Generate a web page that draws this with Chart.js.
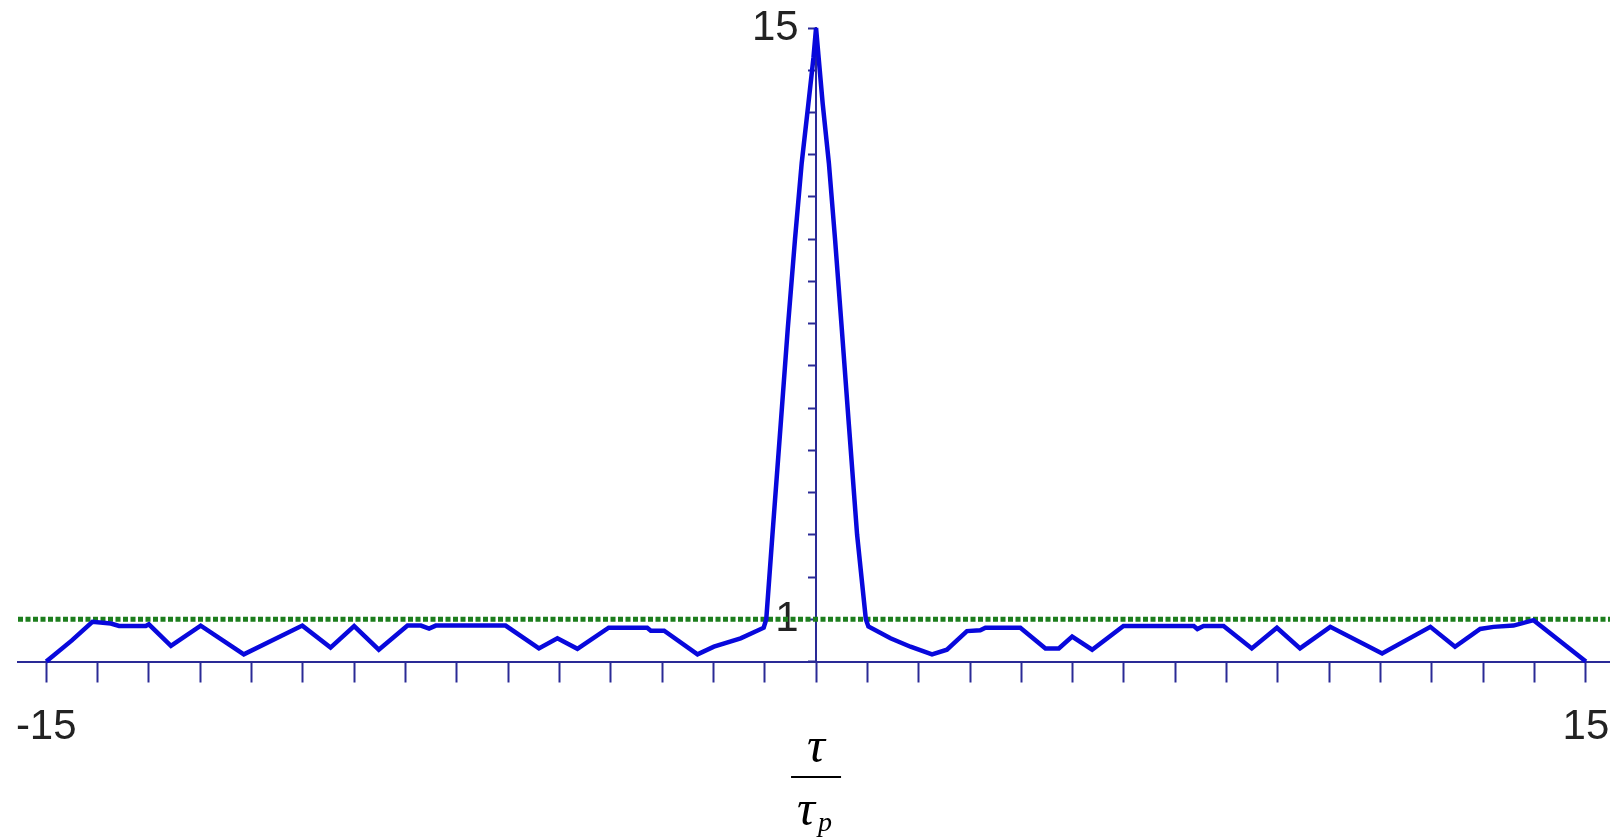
<!DOCTYPE html>
<html>
<head>
<meta charset="utf-8">
<script src="https://cdn.jsdelivr.net/npm/chart.js@4.4.1/dist/chart.umd.min.js"></script>
<style>
  html, body { margin: 0; padding: 0; background: #ffffff; }
  #wrap { width: 1610px; height: 839px; }
</style>
</head>
<body>
<div id="wrap"><canvas id="c" width="1610" height="839"></canvas></div>
<script>
// ---- data ----
const lagValues = [
  -15, -14.5, -14.1, -13.74, -13.58, -13.06, -13.0, -12.57, -11.99, -11.15,
  -10.01, -9.46, -9.0, -8.52, -7.96, -7.7, -7.54, -7.41, -6.05, -5.40,
  -5.04, -4.65, -4.04, -3.29, -3.22, -2.96, -2.31, -1.99, -1.47, -1.02,
  -0.97, -0.85, -0.69, -0.55, -0.41, -0.28, -0.15, -0.05, 0,
  0.05, 0.13, 0.25, 0.37, 0.50, 0.64, 0.80, 0.97,
  1.02, 1.45, 1.84, 2.26, 2.55, 2.94, 3.2, 3.3, 3.98, 4.47, 4.73, 4.99,
  5.38, 5.99, 7.36, 7.43, 7.55, 7.94, 8.49, 8.98, 9.43, 10.02, 11.03,
  11.97, 12.45, 12.94, 13.2, 13.59, 13.98, 15
];
const corrValues = [
  0, 0.50, 0.94, 0.90, 0.84, 0.84, 0.88, 0.37, 0.85, 0.17,
  0.85, 0.33, 0.84, 0.28, 0.85, 0.85, 0.78, 0.85, 0.85, 0.31,
  0.55, 0.30, 0.80, 0.80, 0.73, 0.73, 0.17, 0.35, 0.55, 0.80,
  1.0, 3.0, 5.6, 7.9, 10.0, 11.8, 13.2, 14.3, 15,
  14.3, 13.2, 11.8, 10.0, 7.9, 5.6, 3.0, 1.0,
  0.83, 0.55, 0.35, 0.17, 0.28, 0.72, 0.74, 0.80, 0.80, 0.31, 0.31, 0.59,
  0.28, 0.84, 0.84, 0.77, 0.84, 0.84, 0.31, 0.80, 0.31, 0.82, 0.19,
  0.82, 0.35, 0.77, 0.82, 0.85, 0.98, 0
];
const thresholdLevel = 1;
const xRange = [-15.55, 15.47];
const yRange = [0, 15];
const xTickLabels = ['-15', '15'];
const yTickLabels = ['1', '15'];
const yLabelAnchor = -0.34;   // where the y tick labels are right-aligned (x units)

// ---- styles ----
const axisColor = '#2a2a96';
const labelColor = '#222222';
const curveColor = '#0808dc';
const levelColor = '#1d7e1d';
const labelFont = { family: '"Liberation Sans", Arial, sans-serif', size: 42 };

const curveData = lagValues.map((x, i) => ({ x: x, y: corrValues[i] }));
const levelData = xRange.map(x => ({ x: x, y: thresholdLevel }));

function integerTicks(s) {
  const t = [];
  for (let v = Math.ceil(s.min); v <= Math.floor(s.max); v++) t.push({ value: v });
  s.ticks = t;
}

const fractionTitle = {
  id: 'fractionTitle',
  afterDraw(chart) {
    const ctx = chart.ctx;
    const cx = chart.scales.x.getPixelForValue(0);
    ctx.save();
    ctx.fillStyle = '#000';
    ctx.textBaseline = 'alphabetic';
    ctx.font = 'italic 50px "Liberation Serif", "Times New Roman", serif';
    ctx.textAlign = 'center';
    ctx.fillText('τ', cx, 762);
    ctx.fillText('τ', cx - 10, 825);
    ctx.font = 'italic 28px "Liberation Serif", "Times New Roman", serif';
    ctx.textAlign = 'left';
    ctx.fillText('p', cx + 2, 831);
    ctx.strokeStyle = '#000';
    ctx.lineWidth = 2;
    ctx.beginPath();
    ctx.moveTo(cx - 25, 777);
    ctx.lineTo(cx + 25, 777);
    ctx.stroke();
    ctx.restore();
  }
};

new Chart(document.getElementById('c'), {
  type: 'line',
  data: {
    datasets: [
      {
        data: curveData,
        yAxisID: 'y',
        borderColor: curveColor,
        borderWidth: 4.5,
        pointRadius: 0,
        tension: 0,
        fill: false,
        clip: false
      },
      {
        data: levelData,
        yAxisID: 'y',
        borderColor: levelColor,
        borderWidth: 5,
        borderDash: [5, 2.5],
        pointRadius: 0,
        fill: false,
        clip: false
      }
    ]
  },
  options: {
    responsive: false,
    animation: false,
    devicePixelRatio: 1,
    layout: { padding: { left: 18, right: 0, top: 28, bottom: 0 } },
    plugins: { legend: { display: false }, tooltip: { enabled: false } },
    scales: {
      x: {
        type: 'linear',
        position: 'bottom',
        min: xRange[0],
        max: xRange[1],
        afterBuildTicks: integerTicks,
        afterFit(s) {
          s.height = 839 - 661.5;
          s.paddingLeft = 0;
          s.paddingRight = 0;
        },
        border: { display: true, color: axisColor, width: 2 },
        grid: {
          drawOnChartArea: false,
          drawTicks: true,
          tickLength: 21,
          tickWidth: 2,
          tickColor: axisColor
        },
        ticks: {
          autoSkip: false,
          maxRotation: 0,
          padding: 20,
          color: labelColor,
          font: labelFont,
          callback: (v) => xTickLabels.includes(String(v)) ? String(v) : ''
        }
      },
      y: {
        type: 'linear',
        axis: 'y',
        position: { x: 0 },
        min: yRange[0],
        max: yRange[1],
        afterBuildTicks: integerTicks,
        afterFit(s) { s.paddingTop = 0; s.paddingBottom = 0; },
        border: { display: true, color: axisColor, width: 2 },
        grid: {
          drawOnChartArea: false,
          drawTicks: true,
          tickLength: 7,
          tickWidth: 2,
          tickColor: axisColor
        },
        ticks: { display: false }
      },
      yLabels: {
        type: 'linear',
        axis: 'y',
        position: { x: yLabelAnchor },
        min: yRange[0],
        max: yRange[1],
        afterBuildTicks: integerTicks,
        afterFit(s) { s.paddingTop = 0; s.paddingBottom = 0; },
        border: { display: false },
        grid: { display: false },
        ticks: {
          autoSkip: false,
          color: labelColor,
          font: labelFont,
          callback: (v) => yTickLabels.includes(String(v)) ? String(v) : ''
        }
      }
    }
  },
  plugins: [fractionTitle]
});
</script>
</body>
</html>
